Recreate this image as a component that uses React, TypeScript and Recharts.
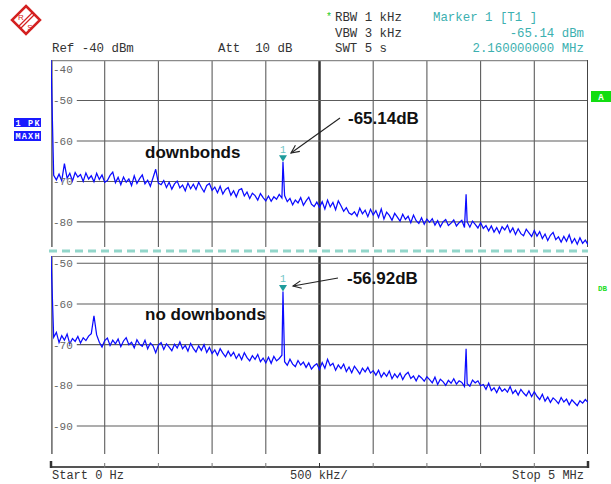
import React from 'react';
import { LineChart, Line, XAxis, YAxis, ReferenceLine, ReferenceDot } from 'recharts';

// sweep: 0 .. 5 MHz, one reading every 25 kHz
const STEP_MHZ = 0.025;

const topTrace = [
  -40,
  -68.5, -69.6, -68.2, -69.8, -65.6, -69.2, -68.0, -69.9, -67.8, -68.9, -68.3, -70.0, -67.9, -69.4, -68.6, -70.1, -68.0, -69.5, -68.4, -70.2,
  -69.8, -68.5, -67.7, -70.3, -69.0, -70.8, -68.9, -70.2, -69.4, -71.0, -68.6, -70.5, -69.3, -68.4, -70.6, -69.7, -71.2, -69.1, -67.0, -70.4,
  -70.8, -69.8, -71.5, -70.2, -71.9, -70.6, -69.9, -71.6, -70.9, -72.3, -70.4, -71.8, -70.7, -72.0, -70.2, -71.5, -72.6, -71.0, -70.5, -72.2,
  -71.4, -72.8, -71.2, -73.1, -72.0, -71.5, -73.4, -72.3, -73.8, -72.1, -71.8, -73.6, -72.6, -74.2, -72.9, -73.5, -74.6, -73.0, -74.0, -74.8,
  -73.6, -74.9, -73.8, -74.4, -73.2, -74.1, -73.5, -75.0, -74.2, -75.8, -74.6, -75.3, -74.0, -75.9, -74.8, -73.9, -75.6, -76.2, -75.1, -76.4,
  -75.0, -76.8, -74.6, -76.3, -75.2, -77.0, -74.8, -76.0, -77.4, -76.5, -77.8, -78.2, -77.5, -78.6, -76.6, -78.0, -77.1, -78.7, -76.9, -78.3,
  -77.2, -78.9, -76.8, -79.3, -77.6, -78.4, -79.6, -77.9, -78.8, -79.8, -78.1, -79.4, -78.6, -80.2, -78.3, -79.7, -80.4, -79.0, -80.6, -79.3,
  -80.1, -79.2, -80.8, -79.7, -81.2, -80.0, -79.4, -80.9, -80.3, -79.5, -81.0, -80.2, -79.6, -81.4, -80.0, -81.3, -79.8, -80.6, -81.5, -80.2,
  -81.6, -80.9, -82.2, -81.0, -82.5, -81.4, -82.8, -81.2, -82.0, -80.8, -82.6, -81.5, -83.1, -81.7, -82.9, -83.4, -81.8, -82.7, -83.6, -82.1,
  -83.5, -82.4, -84.1, -83.0, -84.6, -83.3, -82.6, -84.4, -83.7, -85.0, -83.6, -84.8, -83.2, -85.2, -84.1, -85.5, -83.9, -85.3, -84.5, -85.6,
];

const bottomTrace = [
  -48.2,
  -68.2, -67.0, -69.5, -67.8, -68.9, -67.4, -69.8, -68.5, -69.2, -68.0, -69.6, -68.3, -69.0, -67.9, -67.3, -62.9, -67.6, -69.4, -70.6, -69.0,
  -68.4, -70.2, -68.9, -69.8, -68.6, -70.5, -69.1, -68.3, -70.0, -69.4, -70.8, -68.8, -69.9, -70.4, -68.9, -71.0, -69.6, -70.3, -72.0, -70.1,
  -69.5, -71.2, -69.8, -70.6, -71.5, -69.9, -70.8, -69.3, -71.0, -70.2, -71.6, -69.7, -70.9, -71.8, -70.3, -71.4, -70.0, -71.9, -70.7, -72.2,
  -71.3, -72.6, -71.0, -72.1, -73.0, -71.6, -72.8, -71.9, -73.4, -72.3, -73.7, -72.0, -73.2, -74.0, -72.7, -73.6, -72.4, -74.2, -73.3, -74.5,
  -73.1, -74.6, -72.9, -74.0, -73.4, -72.6, -74.2, -75.1, -73.6, -74.8, -75.4, -73.9, -75.0, -74.3, -75.6, -74.5, -76.0, -75.2, -74.7, -76.1,
  -74.4, -75.8, -73.6, -75.2, -74.6, -76.3, -75.0, -75.9, -74.8, -76.6, -75.5, -76.9, -75.3, -76.2, -77.2, -75.8, -76.7, -75.6, -77.0, -76.4,
  -77.5, -76.3, -78.0, -76.9, -77.8, -76.5, -78.4, -77.2, -78.1, -77.0, -78.6, -77.4, -76.8, -78.3, -77.7, -78.9, -77.6, -78.2, -79.0, -77.9,
  -78.6, -79.4, -78.0, -79.8, -78.5, -79.1, -80.0, -78.8, -79.5, -78.4, -79.7, -78.9, -79.3, -80.3, -79.6, -80.2, -78.7, -79.4, -78.9, -80.1,
  -79.8, -81.0, -79.5, -81.3, -80.6, -81.8, -80.4, -81.5, -80.9, -81.7, -80.3, -82.0, -81.2, -82.4, -81.0, -81.9, -82.6, -81.4, -82.8, -81.6,
  -82.7, -83.5, -82.2, -83.9, -82.9, -84.2, -83.1, -83.7, -84.5, -83.0, -84.1, -83.4, -84.8, -83.6, -84.3, -85.0, -83.8, -84.4, -83.5, -84.2,
];

// narrow spurs that fall between sweep points
const spurFreqs = [2.16, 3.865];
const topSpurs = [-65.14, -73.2];
const bottomSpurs = [-56.92, -71.0];

const markerFreq = 2.16;
const topMarker = -65.14;
const bottomMarker = -56.92;

const gridFreqs = [0.5, 1, 1.5, 2, 2.5, 3, 3.5, 4, 4.5];
const topLevels = [-50, -60, -70, -80];
const bottomLevels = [-50, -60, -70, -80, -90];
const topDomain = [-86.2, -40];
const bottomDomain = [-96.9, -48.2];

const TRACE = '#0b0bff';
const GRID = '#5c5c5c';
const TEAL = '#1f9c9c';
const MONO = '"Liberation Mono", "DejaVu Sans Mono", monospace';
const SANS = '"Liberation Sans", Arial, sans-serif';

function buildTrace(levels: number[], spurs: number[]) {
  const rows = levels.map((v, i) => ({ f: +(i * STEP_MHZ).toFixed(3), v }));
  spurFreqs.forEach((f, k) => rows.push({ f, v: spurs[k] }));
  rows.sort((a, b) => a.f - b.f);
  return rows;
}

const topData = buildTrace(topTrace, topSpurs);
const bottomData = buildTrace(bottomTrace, bottomSpurs);

const levelLabel = (text: string, dy: number) => (p: any) => (
  <text x={p.cx + 2} y={p.cy + dy} fontFamily={MONO} fontSize={11} fill="#666">
    {text}
  </text>
);

const markerShape = (p: any) => (
  <g>
    <polygon points={`${p.cx - 4},${p.cy - 6.5} ${p.cx + 4},${p.cy - 6.5} ${p.cx},${p.cy}`} fill={TEAL} />
    <text x={p.cx} y={p.cy - 9} textAnchor="middle" fontFamily={MONO} fontSize={10} fill="#6cc4c4">1</text>
  </g>
);

interface PanelProps {
  data: { f: number; v: number }[];
  domain: number[];
  levels: number[];
  marker: number;
  top: number;
  height: number;
  topBorder: { color: string; width: number };
}

const Panel: React.FC<PanelProps> = ({ data, domain, levels, marker, top, height, topBorder }) => (
  <div style={{ position: 'absolute', left: 51, top }}>
    <LineChart width={537} height={height} data={data} margin={{ top: 0, right: 0, bottom: 0, left: 0 }}>
      <XAxis type="number" dataKey="f" domain={[0, 5]} hide />
      <YAxis type="number" domain={domain} hide allowDataOverflow />
      {gridFreqs.map((f) => (
        <ReferenceLine
          key={'x' + f}
          x={f}
          stroke={f === 2.5 ? '#333' : GRID}
          strokeWidth={f === 2.5 ? 2.5 : 1.1}
        />
      ))}
      {levels.map((lv) => (
        <ReferenceLine
          key={'y' + lv}
          segment={[{ x: 0.24, y: lv }, { x: 5, y: lv }]}
          stroke={GRID}
          strokeWidth={1.1}
        />
      ))}
      <ReferenceLine y={domain[1]} stroke={topBorder.color} strokeWidth={topBorder.width} />
      <ReferenceLine x={0} stroke="#7a7a7a" strokeWidth={3.5} />
      <ReferenceLine x={5} stroke="#444" strokeWidth={2} />
      {levels.map((lv) => (
        <ReferenceDot key={'l' + lv} x={0} y={lv} r={0} shape={levelLabel(String(lv), 4)} />
      ))}
      {domain[1] === -40 && (
        <ReferenceDot x={0} y={-40} r={0} shape={levelLabel('-40', 13)} />
      )}
      <Line
        type="linear"
        dataKey="v"
        stroke={TRACE}
        strokeWidth={1.25}
        dot={false}
        isAnimationActive={false}
      />
      <ReferenceDot x={markerFreq} y={marker} r={0} shape={markerShape} />
    </LineChart>
  </div>
);

function arrow(x1: number, y1: number, x2: number, y2: number) {
  const dx = x1 - x2;
  const dy = y1 - y2;
  const len = Math.hypot(dx, dy);
  const ux = dx / len;
  const uy = dy / len;
  const a = (25 * Math.PI) / 180;
  const h = 9;
  const p1 = [x2 + h * (ux * Math.cos(a) - uy * Math.sin(a)), y2 + h * (ux * Math.sin(a) + uy * Math.cos(a))];
  const p2 = [x2 + h * (ux * Math.cos(a) + uy * Math.sin(a)), y2 + h * (-ux * Math.sin(a) + uy * Math.cos(a))];
  return (
    <g stroke="#222" strokeWidth={1.1} fill="none">
      <line x1={x1} y1={y1} x2={x2} y2={y2} />
      <polyline points={`${p1[0]},${p1[1]} ${x2},${y2} ${p2[0]},${p2[1]}`} />
    </g>
  );
}

const divisionX = [0, 1, 2, 3, 4, 5, 6, 7, 8, 9, 10].map((k) => 51 + k * 53.7);

const App: React.FC = () => (
  <div style={{ position: 'absolute', left: 0, top: 0, width: 611, height: 484, background: '#fff', overflow: 'hidden' }}>
    <Panel
      data={topData}
      domain={topDomain}
      levels={topLevels}
      marker={topMarker}
      top={60}
      height={187}
      topBorder={{ color: '#8a8a8a', width: 2.5 }}
    />
    <Panel
      data={bottomData}
      domain={bottomDomain}
      levels={bottomLevels}
      marker={bottomMarker}
      top={256}
      height={198}
      topBorder={{ color: '#555', width: 1.5 }}
    />
    <svg width={611} height={484} style={{ position: 'absolute', left: 0, top: 0, pointerEvents: 'none' }}>
      {/* logo */}
      <polygon points="26,6 40,20 26,34 12,20" fill="#fff" stroke="#d42020" strokeWidth={2.5} />
      <line x1={32} y1={13} x2={19} y2={26} stroke="#d42020" strokeWidth={1.2} />
      <line x1={34} y1={15} x2={21} y2={28} stroke="#d42020" strokeWidth={1.2} />
      <text x={21} y={20} textAnchor="middle" fontFamily={SANS} fontSize={8} fill="#d42020">R</text>
      <text x={30} y={30} textAnchor="middle" fontFamily={SANS} fontSize={8} fill="#d42020">S</text>

      {/* header */}
      <g fontFamily={MONO} fontSize={12.4} fill="#333">
        <text x={52} y={52}>Ref -40 dBm</text>
        <text x={218} y={52} xmlSpace="preserve">Att  10 dB</text>
        <text x={335} y={21}>RBW 1 kHz</text>
        <text x={335} y={37}>VBW 3 kHz</text>
        <text x={335} y={52}>SWT 5 s</text>
      </g>
      <text x={326} y={20} fontFamily={MONO} fontSize={10} fill="#22cc22">*</text>
      <g fontFamily={MONO} fontSize={12.4} fill="#3cb0b0">
        <text x={433} y={21} xmlSpace="preserve">Marker 1 [T1 ]</text>
        <text x={584} y={37} textAnchor="end">-65.14 dBm</text>
        <text x={584} y={52} textAnchor="end">2.160000000 MHz</text>
      </g>

      {/* trace badges */}
      <rect x={14} y={118} width={27} height={9} fill="#1a1aff" />
      <text x={15.5} y={125.5} fontFamily={MONO} fontWeight="bold" fontSize={8.5} fill="#fff" textLength={24} xmlSpace="preserve">1 PK</text>
      <rect x={14} y={131} width={27} height={10} fill="#1a1aff" />
      <text x={15.5} y={139} fontFamily={MONO} fontWeight="bold" fontSize={8.5} fill="#fff" textLength={24}>MAXH</text>
      <rect x={591} y={91} width={20} height={11} fill="#11dd11" />
      <text x={601} y={100} textAnchor="middle" fontFamily={MONO} fontWeight="bold" fontSize={9} fill="#fff">A</text>
      <text x={598} y={291} fontFamily={MONO} fontWeight="bold" fontSize={7.5} fill="#22dd22">DB</text>

      {/* separator */}
      <line x1={49} y1={251} x2={588} y2={251} stroke="#92d6ca" strokeWidth={3} strokeDasharray="8 5" />

      {/* annotations */}
      <g fontFamily={SANS} fontWeight="bold" fontSize={17} fill="#111">
        <text x={145} y={158}>downbonds</text>
        <text x={348} y={124}>-65.14dB</text>
        <text x={145} y={320}>no downbonds</text>
        <text x={347} y={284}>-56.92dB</text>
      </g>
      {arrow(340, 118, 291, 153)}
      {arrow(338, 278, 293, 286)}

      {/* frequency frame */}
      <line x1={51} y1={467} x2={588} y2={467} stroke="#555" strokeWidth={2} />
      {divisionX.map((x, k) => (
        <line
          key={k}
          x1={x}
          y1={k === 0 || k === 10 ? 461 : 463}
          x2={x}
          y2={468}
          stroke={k === 5 || k === 0 || k === 10 ? '#333' : '#777'}
          strokeWidth={k === 0 || k === 10 ? 2.5 : 1}
        />
      ))}
      <g fontFamily={MONO} fontSize={12} fill="#333">
        <text x={52} y={479}>Start 0 Hz</text>
        <text x={290} y={479}>500 kHz/</text>
        <text x={512} y={479}>Stop 5 MHz</text>
      </g>
    </svg>
  </div>
);

export default App;
